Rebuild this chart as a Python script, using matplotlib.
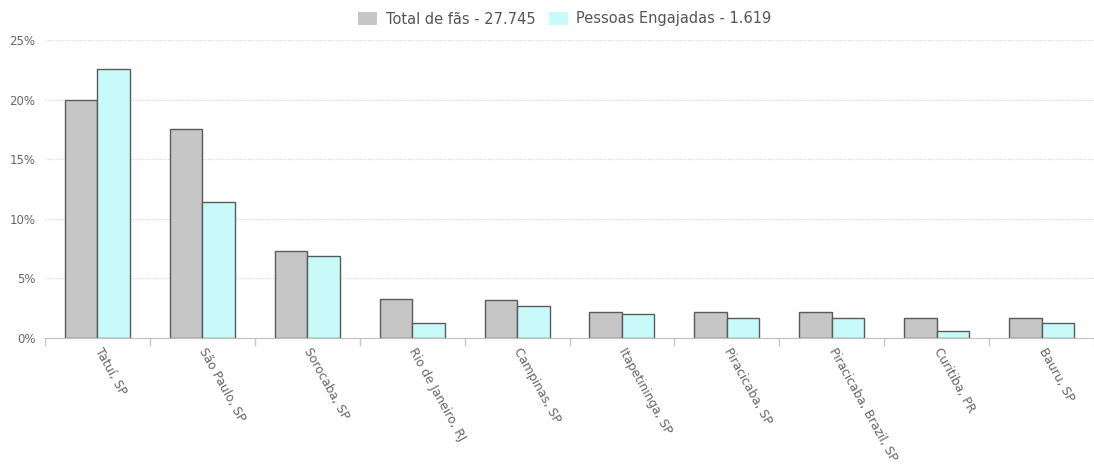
import numpy as np
import matplotlib.pyplot as plt
from matplotlib.patches import Patch

cidades = ['Tatuí, SP', 'São Paulo, SP', 'Sorocaba, SP', 'Rio de Janeiro, RJ',
           'Campinas, SP', 'Itapetininga, SP', 'Piracicaba, SP',
           'Piracicaba, Brazil, SP', 'Curitiba, PR', 'Bauru, SP']
total_fas = [20.0, 17.5, 7.3, 3.3, 3.2, 2.2, 2.2, 2.2, 1.7, 1.7]
engajadas = [22.6, 11.4, 6.9, 1.3, 2.7, 2.0, 1.7, 1.7, 0.6, 1.3]
y_ticks = [0, 5, 10, 15, 20, 25]
leg_total = 'Total de fãs - 27.745'
leg_eng = 'Pessoas Engajadas - 1.619'

plt.rcParams['font.family'] = ['DejaVu Sans']
cor_cinza = '#c6c6c6'
cor_ciano = '#c9fafa'
cor_borda = '#5a5a5a'
cor_texto = '#666666'

fig = plt.figure(figsize=(10.94, 4.68), dpi=100)
ax = fig.add_axes([45/1094, 1-338/468, 1049/1094, (338-40)/468])

x = np.arange(len(cidades))
w = 0.31
ax.bar(x - w/2, total_fas, w, color=cor_cinza, edgecolor=cor_borda, linewidth=1, zorder=3)
ax.bar(x + w/2, engajadas, w, color=cor_ciano, edgecolor=cor_borda, linewidth=1, zorder=3)

ax.set_xlim(-0.5, len(cidades) - 0.5)
ax.set_ylim(0, 25)
ax.set_yticks(y_ticks)
ax.set_yticklabels([f'{v}%' for v in y_ticks], fontsize=8.5, color=cor_texto)
for v in y_ticks[1:]:
    ax.axhline(v, color='#d8d8d8', linestyle=(0, (1, 1)), linewidth=0.9, zorder=1)

ax.set_xticks(x)
ax.set_xticklabels(cidades, rotation=-61, ha='left', va='center', rotation_mode='anchor',
                   fontsize=8.8, color=cor_texto)
ax.tick_params(axis='x', length=0, pad=8)
ax.tick_params(axis='y', length=0, pad=7)
# marcas entre categorias
ax.set_xticks(np.arange(len(cidades) + 1) - 0.5, minor=True)
ax.tick_params(axis='x', which='minor', length=6, color='#c8c8c8', width=1)

for s in ['top', 'right', 'left']:
    ax.spines[s].set_visible(False)
ax.spines['bottom'].set_color('#c0c0c0')
ax.spines['bottom'].set_zorder(4)

handles = [Patch(facecolor=cor_cinza, edgecolor='none', label=leg_total),
           Patch(facecolor=cor_ciano, edgecolor='none', label=leg_eng)]
fig.legend(handles=handles, loc='center', bbox_to_anchor=(565/1094, 1-19/468), ncol=2,
           frameon=False, fontsize=10.5, labelcolor='#555555', handlelength=1.3,
           handleheight=1.0, columnspacing=0.9, handletextpad=0.6)

fig.savefig('out.png', dpi=100, facecolor='white')
